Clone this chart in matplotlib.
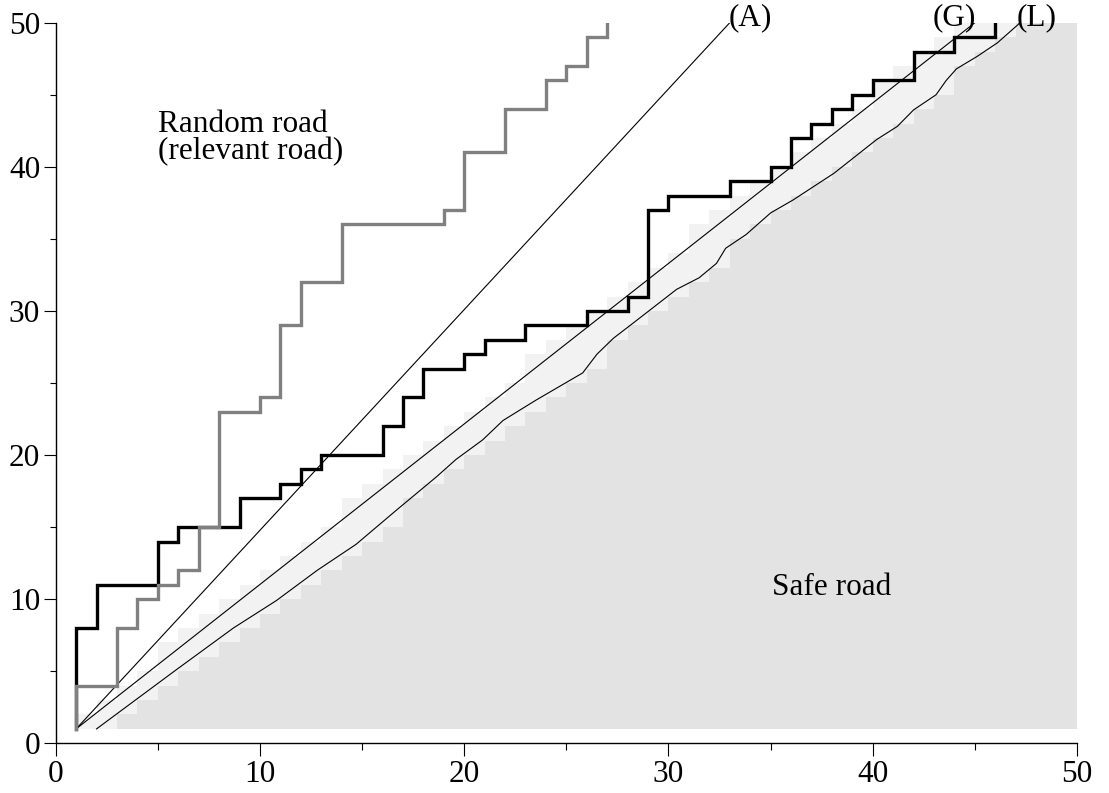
import numpy as np
import matplotlib
matplotlib.use("Agg")
import matplotlib.pyplot as plt
from matplotlib.colors import ListedColormap, BoundaryNorm

plt.rcParams['font.family'] = ['Liberation Serif', 'DejaVu Serif']

# ---- data ----
# black step road (x where the value jumps, value after the jump)
black_x = [1, 1, 2, 5, 6, 9, 11, 12, 13, 16, 17, 18, 20, 21, 23, 26, 28, 29, 30,
           33, 35, 36, 37, 38, 39, 40, 42, 44, 46]
black_y = [1, 8, 11, 14, 15, 17, 18, 19, 20, 22, 24, 26, 27, 28, 29, 30, 31, 37, 38,
           39, 40, 42, 43, 44, 45, 46, 48, 49, 50]
# grey step road (random / relevant road)
gray_x = [1, 1, 3, 4, 5, 6, 7, 8, 10, 11, 12, 14, 19, 20, 22, 24, 25, 26, 27]
gray_y = [1, 4, 8, 10, 11, 12, 15, 23, 24, 29, 32, 36, 37, 41, 44, 46, 47, 49, 50]

# reference lines
a_x = [1, 33]
a_y = [1, 50]
g_x = [1, 45]
g_y = [1, 50]
l_x = [2, 5.9, 8.7, 10.8, 12.8, 14.7, 16.7, 18.65, 19.6, 20.9, 21.9, 23.5, 25.8,
       26.5, 27.3, 28.4, 30.4, 31.5, 32.35, 32.8, 33.8, 35.0, 36.1, 38.1, 40.2,
       41.2, 42.0, 43.1, 43.6, 44.1, 45.1, 46.1, 47.1, 47.2]
l_y = [1, 5.1, 8.0, 9.9, 12.0, 13.8, 16.2, 18.5, 19.7, 21.05, 22.4, 23.8, 25.7,
       27.0, 28.1, 29.3, 31.5, 32.3, 33.3, 34.35, 35.3, 36.8, 37.7, 39.55, 41.9,
       42.8, 43.95, 45.0, 46.0, 46.8, 47.65, 48.6, 49.85, 50]

# shaded cells: for each row y = 1..49, first column of the light band
# and first column of the safe (grey) region
rows = list(range(1, 50))
light_start = [1, 2, 3, 4, 5, 5, 6, 7, 8, 9, 10, 11, 12, 13, 14, 14, 15, 16, 17, 18,
               19, 20, 21, 22, 23, 23, 24, 25, 26, 27, 28, 29, 30, 31, 31, 32, 33, 34,
               35, 36, 37, 38, 39, 40, 40, 41, 42, 43, 44]
grey_start = [3, 4, 5, 6, 7, 8, 9, 10, 11, 12, 13, 14, 15, 16, 17, 17, 18, 19, 20, 21,
              22, 23, 24, 25, 26, 27, 27, 28, 29, 30, 31, 32, 33, 33, 34, 35, 36, 37,
              38, 39, 40, 41, 42, 43, 44, 44, 45, 46, 47]

# ---- figure ----
W, H = 1109, 793
fig = plt.figure(figsize=(W / 100, H / 100), dpi=100)
ax = fig.add_axes([55.7 / W, (H - 743.3) / H, 1021.3 / W, 720.6 / H])
ax.set_xlim(0, 50)
ax.set_ylim(0, 50)

cols = np.arange(1, 51)
grid = np.zeros((len(rows), 49))
for r, (ls, gs) in enumerate(zip(light_start, grey_start)):
    for c in range(49):
        xc = c + 1
        if xc >= gs:
            grid[r, c] = 2
        elif xc >= ls:
            grid[r, c] = 1
cmap = ListedColormap(['#ffffff', '#f2f2f2', '#e3e3e3'])
norm = BoundaryNorm([-0.5, 0.5, 1.5, 2.5], 3)
ax.pcolormesh(cols, np.arange(1, 51), grid, cmap=cmap, norm=norm,
              shading='flat', antialiased=False, linewidth=0, zorder=1)

ax.plot(a_x, a_y, color='black', lw=0.8, zorder=3)
ax.plot(g_x, g_y, color='black', lw=0.8, zorder=3)
ax.plot(l_x, l_y, color='black', lw=0.8, zorder=3)

ax.step(black_x, black_y, where='post', color='black', lw=2.4, zorder=4,
        solid_joinstyle='miter')
ax.step(gray_x, gray_y, where='post', color='#808080', lw=2.4, zorder=5,
        solid_joinstyle='miter')

fs = 22.5
ax.text(34, 49.85, '(A)', ha='center', va='baseline', fontsize=fs)
ax.text(44, 49.85, '(G)', ha='center', va='baseline', fontsize=fs)
ax.text(48, 49.85, '(L)', ha='center', va='baseline', fontsize=fs)
ax.text(5.0, 42.4, 'Random road', ha='left', va='baseline', fontsize=fs)
ax.text(5.0, 40.55, '(relevant road)', ha='left', va='baseline', fontsize=fs)
ax.text(35.05, 10.3, 'Safe road', ha='left', va='baseline', fontsize=fs)

for s in ['top', 'right']:
    ax.spines[s].set_visible(False)
for s in ['left', 'bottom']:
    ax.spines[s].set_linewidth(1.0)
    ax.spines[s].set_zorder(6)

ax.set_xticks([0, 10, 20, 30, 40, 50])
ax.set_yticks([0, 10, 20, 30, 40, 50])
ax.set_xticks([5, 15, 25, 35, 45], minor=True)
ax.set_yticks([5, 15, 25, 35, 45], minor=True)
ax.tick_params(axis='x', which='major', direction='out', length=9.5, width=0.8,
               labelsize=fs, pad=2.5)
ax.tick_params(axis='x', which='minor', direction='out', length=5, width=0.8)
ax.tick_params(axis='y', which='major', direction='out', length=8.7, width=0.8,
               labelsize=fs, pad=2.5)
ax.tick_params(axis='y', which='minor', direction='out', length=4.4, width=0.8)
ax.patch.set_alpha(0)

fig.savefig('out.png', dpi=100)
